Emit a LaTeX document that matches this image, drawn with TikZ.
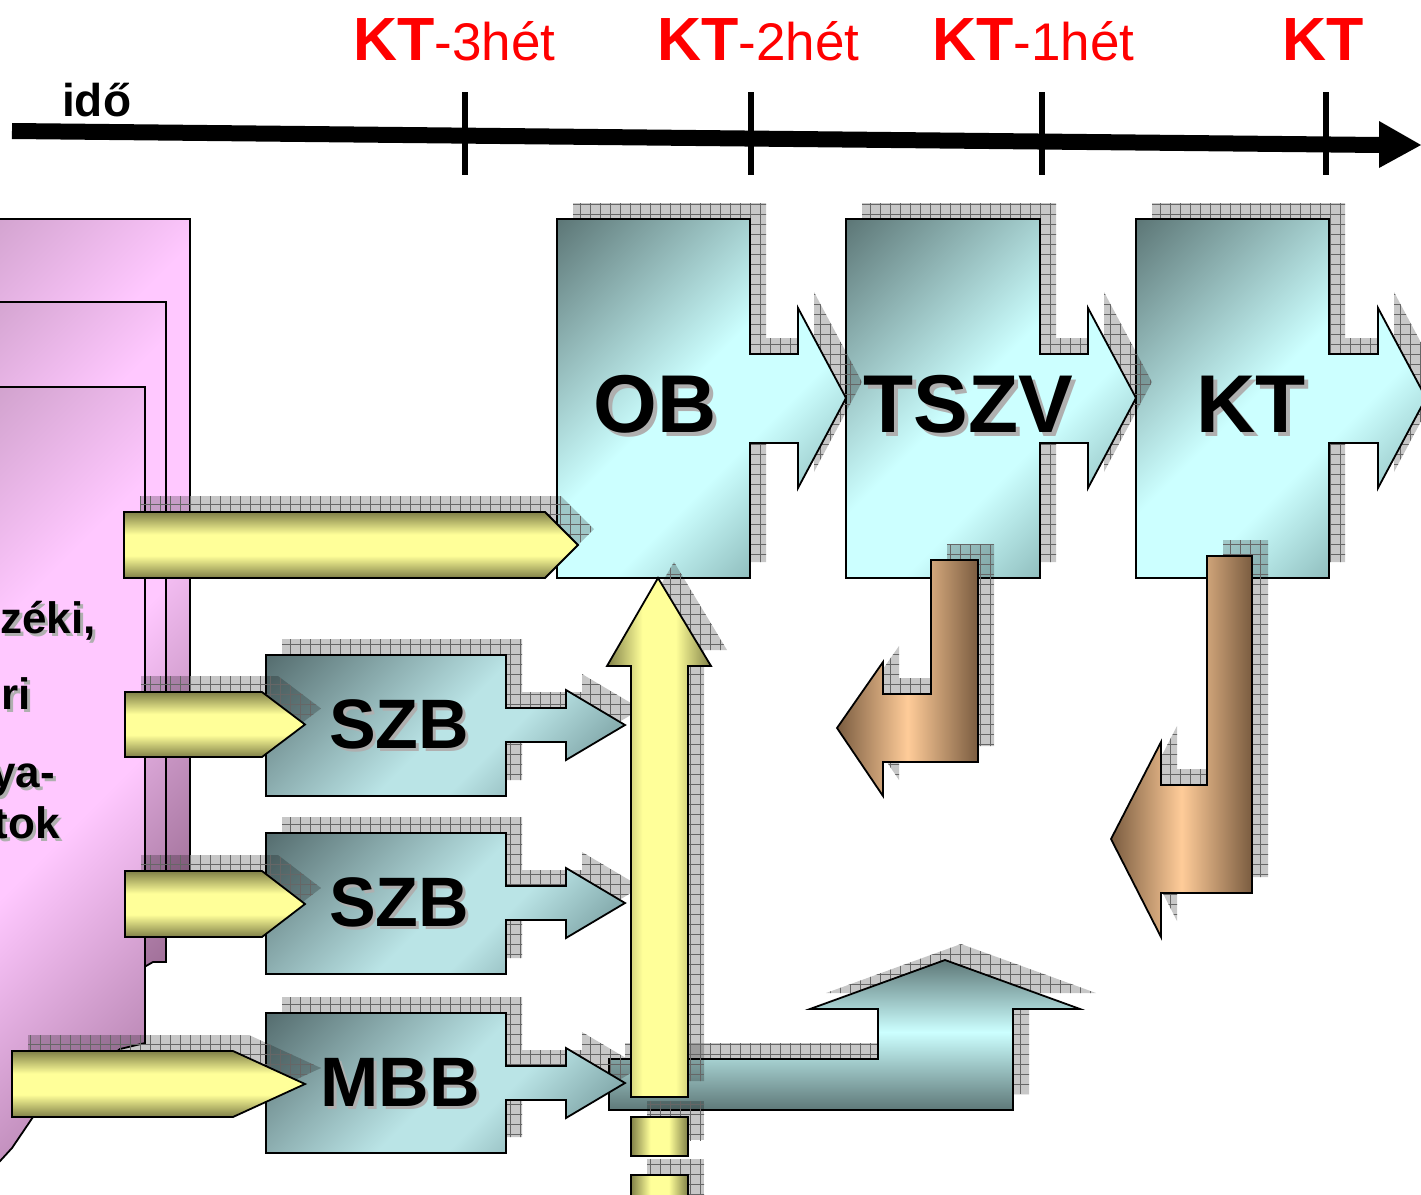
\documentclass[tikz,border=0pt]{standalone}
\usepackage{fontspec}
\setmainfont{Liberation Sans}
\usetikzlibrary{patterns.meta}

\definecolor{tdark}{RGB}{94,120,120}
\definecolor{tlight}{RGB}{204,255,255}
\definecolor{tmid}{RGB}{104,146,146}
\definecolor{sdark}{RGB}{86,110,112}
\definecolor{slight}{RGB}{186,228,230}
\definecolor{smid}{RGB}{98,134,136}
\definecolor{ydark}{RGB}{128,128,72}
\definecolor{ylight}{RGB}{255,255,153}
\definecolor{bdark}{RGB}{122,92,64}
\definecolor{blight}{RGB}{255,204,153}
\definecolor{pdark}{RGB}{180,138,174}
\definecolor{plight}{RGB}{255,200,255}
\definecolor{pdarkb}{RGB}{158,110,150}
\definecolor{ktred}{RGB}{255,0,0}
\definecolor{txtshadow}{RGB}{175,175,175}

\pgfdeclarehorizontalshading{tealD}{100bp}{color(0bp)=(tdark); color(15bp)=(tdark); color(47bp)=(tlight); color(60bp)=(tlight); color(85bp)=(tmid); color(100bp)=(tmid)}
\pgfdeclarehorizontalshading{szbD}{100bp}{color(0bp)=(sdark); color(15bp)=(sdark); color(50bp)=(slight); color(60bp)=(slight); color(85bp)=(smid); color(100bp)=(smid)}
\pgfdeclarehorizontalshading{pinkD}{100bp}{color(0bp)=(pdark); color(14bp)=(pdark); color(40bp)=(plight); color(58bp)=(plight); color(86bp)=(pdarkb); color(100bp)=(pdarkb)}
\pgfdeclareverticalshading{yelV}{100bp}{color(0bp)=(ydark); color(25bp)=(ydark); color(42bp)=(ylight); color(58bp)=(ylight); color(75bp)=(ydark); color(100bp)=(ydark)}
\pgfdeclarehorizontalshading{yelH}{100bp}{color(0bp)=(ydark); color(25bp)=(ydark); color(42bp)=(ylight); color(58bp)=(ylight); color(75bp)=(ydark); color(100bp)=(ydark)}
\pgfdeclarehorizontalshading{brownH}{100bp}{color(0bp)=(bdark); color(25bp)=(bdark); color(50bp)=(blight); color(75bp)=(bdark); color(100bp)=(bdark)}
\pgfdeclareverticalshading{tealV}{100bp}{color(0bp)=(tdark); color(25bp)=(tdark); color(51bp)=(tlight); color(75bp)=(tdark); color(100bp)=(tdark)}

\tikzset{
  outl/.style={draw=black, line width=1.8pt, line join=miter},
  shbase/.style={fill=black, fill opacity=0.22, draw=none},
  shgrid/.style={pattern={Hatch[distance=10pt,angle=0,line width=0.5pt]}, pattern color=black!60, fill opacity=0.25, draw=none},
  bigbox/.style={outl, shading=tealD, shading angle=-45},
  smallbox/.style={outl, shading=szbD, shading angle=-45},
  yelhoriz/.style={outl, shading=yelV},
  yelvert/.style={outl, shading=yelH},
  brownarrow/.style={outl, shading=brownH},
  teall/.style={outl, shading=tealV},
  pagestyle/.style={draw=black, line width=1.8pt, shading=pinkD, shading angle=-45},
  bigtxt/.style={font=\fontsize{82}{90}\selectfont\bfseries, text=black, inner sep=0pt, anchor=base},
  smalltxt/.style={font=\fontsize{70}{80}\selectfont\bfseries, text=black, inner sep=0pt, anchor=base},
  pagetxt/.style={font=\fontsize{44}{50}\selectfont\bfseries, text=black, inner sep=0pt, anchor=base east},
  shadowtxt/.style={text=txtshadow},
  timelbl/.style={text=ktred, inner sep=0pt, anchor=base west},
  axisline/.style={line width=16pt, draw=black},
  tickline/.style={line width=6.5pt, draw=black}
}
\newcommand{\bigKT}{\fontsize{61}{70}\selectfont\bfseries}
\newcommand{\smallwk}{\fontsize{53}{60}\selectfont\mdseries}

\newcommand{\shobj}[2]{%
  \fill[shbase, shift={(16,-16)}] #2;
  \path[shgrid, shift={(16,-16)}] #2;
  \shadedraw[#1] #2;}

\begin{document}
\begin{tikzpicture}[x=1pt, y=-1pt]
\useasboundingbox (0,0) rectangle (1421,1194);
\clip (0,0) rectangle (1421,1194);

% pink document stack
\shadedraw[pagestyle] (-150,219) -- (190,219) -- (190,900) -- (-150,900) -- cycle;
\shadedraw[pagestyle] (-150,302) -- (166,302) -- (166,962) -- (153,962) -- (146,966) -- (-150,966) -- cycle;
\shadedraw[pagestyle] (-150,387) -- (145,387) -- (145,1043) -- (120,1049) -- (33,1117) -- (12,1148) -- (-10,1172) -- (-150,1172) -- cycle;

\node[pagetxt, shadowtxt] (t1s) at (99,636) {zéki,};
\node[pagetxt] (t1) at (96,633) {zéki,};
\node[pagetxt, shadowtxt] (t2s) at (34,712) {ri};
\node[pagetxt] (t2) at (31,709) {ri};
\node[pagetxt, shadowtxt] (t3s) at (58,790) {ya-};
\node[pagetxt] (t3) at (55,787) {ya-};
\node[pagetxt, shadowtxt] (t4s) at (63,841) {tok};
\node[pagetxt] (t4) at (60,838) {tok};

% time axis
\coordinate (axL) at (12,131);
\coordinate (axB) at (1380,145);
\coordinate (axR) at (1421,145);
\draw[axisline] (axL) -- (axB);
\fill (1379,121) -- (axR) -- (1379,168) -- cycle;
\foreach \tx/\nm in {465/a,751/b,1042/c,1326/d} {
  \coordinate (tk\nm1) at (\tx,92);
  \coordinate (tk\nm2) at (\tx,175);
  \draw[tickline] (tk\nm1) -- (tk\nm2);
}
\node[inner sep=0pt, anchor=base west, font=\fontsize{46}{50}\selectfont\bfseries] (ido) at (62,116) {idő};
\node[timelbl] (l3) at (353,60) {{\bigKT KT}{\smallwk -3hét}};
\node[timelbl] (l2) at (657,60) {{\bigKT KT}{\smallwk -2hét}};
\node[timelbl] (l1) at (932,60) {{\bigKT KT}{\smallwk -1hét}};
\node[timelbl] (l0) at (1282,60) {{\bigKT KT}};

% big boxes (back to front: KT, TSZV, OB)
\shobj{bigbox}{(1136,219) -- (1329,219) -- (1329,354) -- (1378,354) -- (1378,308) -- (1426,398) -- (1378,488) -- (1378,443) -- (1329,443) -- (1329,578) -- (1136,578) -- cycle}
\shobj{bigbox}{(846,219) -- (1040,219) -- (1040,354) -- (1088,354) -- (1088,308) -- (1136,398) -- (1088,488) -- (1088,443) -- (1040,443) -- (1040,578) -- (846,578) -- cycle}
\shobj{bigbox}{(557,219) -- (750,219) -- (750,354) -- (798,354) -- (798,308) -- (846,398) -- (798,488) -- (798,443) -- (750,443) -- (750,578) -- (557,578) -- cycle}

% brown bent arrows
\shobj{brownarrow}{(931,560) -- (978,560) -- (978,762) -- (883,762) -- (883,796) -- (837,728) -- (883,662) -- (883,694) -- (931,694) -- cycle}
\shobj{brownarrow}{(1207,556) -- (1252,556) -- (1252,893) -- (1161,893) -- (1161,937) -- (1111,839) -- (1161,742) -- (1161,785) -- (1207,785) -- cycle}

% yellow arrow into OB
\shobj{yelhoriz}{(124,512) -- (545,512) -- (578,545) -- (545,578) -- (124,578) -- cycle}

% teal L-shaped arrow
\shobj{teall}{(609,1110) -- (609,1059) -- (878,1059) -- (878,1009) -- (810,1009) -- (945,960) -- (1080,1009) -- (1013,1009) -- (1013,1110) -- cycle}

% small boxes
\shobj{smallbox}{(266,655) -- (506,655) -- (506,708) -- (566,708) -- (566,690) -- (625,725) -- (566,760) -- (566,742) -- (506,742) -- (506,796) -- (266,796) -- cycle}
\shobj{smallbox}{(266,833) -- (506,833) -- (506,886) -- (566,886) -- (566,868) -- (625,903) -- (566,938) -- (566,920) -- (506,920) -- (506,974) -- (266,974) -- cycle}
\shobj{smallbox}{(266,1013) -- (506,1013) -- (506,1066) -- (566,1066) -- (566,1048) -- (625,1083) -- (566,1118) -- (566,1100) -- (506,1100) -- (506,1153) -- (266,1153) -- cycle}

% small yellow arrows
\shobj{yelhoriz}{(125,692) -- (262,692) -- (305,724.5) -- (262,757) -- (125,757) -- cycle}
\shobj{yelhoriz}{(125,871) -- (262,871) -- (305,904) -- (262,937) -- (125,937) -- cycle}
\shobj{yelhoriz}{(12,1051) -- (233,1051) -- (305,1084) -- (233,1117) -- (12,1117) -- cycle}

% big yellow up arrow and dashes
\shobj{yelvert}{(631,1097) -- (631,666) -- (607,666) -- (658,578) -- (711,666) -- (688,666) -- (688,1097) -- cycle}
\shobj{yelvert}{(631,1117) -- (688,1117) -- (688,1156) -- (631,1156) -- cycle}
\shobj{yelvert}{(631,1175) -- (688,1175) -- (688,1215) -- (631,1215) -- cycle}

% box labels
\node[bigtxt, shadowtxt] (obs) at (659,436) {OB};
\node[bigtxt] (ob) at (655,432) {OB};
\node[bigtxt, shadowtxt] (tszvs) at (972,436) {TSZV};
\node[bigtxt] (tszv) at (968,432) {TSZV};
\node[bigtxt, shadowtxt] (kts) at (1255,436) {KT};
\node[bigtxt] (kt) at (1251,432) {KT};
\node[smalltxt, shadowtxt] (szb1s) at (402,751) {SZB};
\node[smalltxt] (szb1) at (399,748) {SZB};
\node[smalltxt, shadowtxt] (szb2s) at (402,929) {SZB};
\node[smalltxt] (szb2) at (399,926) {SZB};
\node[smalltxt, shadowtxt] (mbbs) at (403,1109) {MBB};
\node[smalltxt] (mbb) at (400,1106) {MBB};
\end{tikzpicture}
\end{document}
